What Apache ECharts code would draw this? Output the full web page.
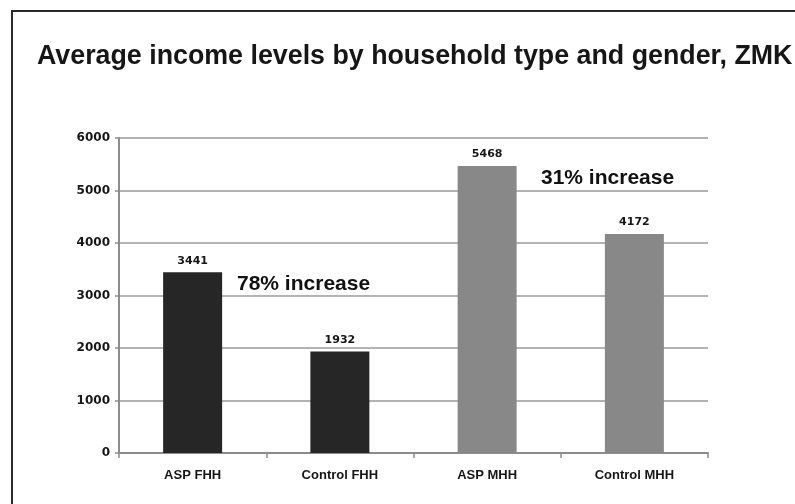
<!DOCTYPE html>
<html>
<head>
<meta charset="utf-8">
<script src="https://cdn.jsdelivr.net/npm/echarts@6/dist/echarts.min.js"></script>
<style>html,body{margin:0;padding:0;background:#fff}#c{width:795px;height:504px}</style>
</head>
<body>
<div id="c"></div>
<script>
const categories = ['ASP FHH', 'Control FHH', 'ASP MHH', 'Control MHH'];
const incomes = [3441, 1932, 5468, 4172];
const barColors = ['#262626', '#262626', '#888888', '#888888'];
const yTicks = [0, 1000, 2000, 3000, 4000, 5000, 6000];
const titleText = 'Average income levels by household type and gender, ZMK';
const notes = ['78% increase', '31% increase'];

const chart = echarts.init(document.getElementById('c'), null, {renderer: 'canvas'});
chart.setOption({
  animation: false,
  backgroundColor: '#fff',
  title: {
    text: titleText, left: 32, top: 38,
    textStyle: {fontFamily: 'Liberation Sans', fontWeight: 'bold', fontSize: 26.8, color: '#161616'}
  },
  grid: {left: 119, right: 87, top: 138, bottom: 51},
  xAxis: {
    type: 'category', data: categories,
    axisLine: {lineStyle: {color: '#8c8c8c', width: 2}},
    axisTick: {show: true, length: 5, lineStyle: {color: '#8c8c8c', width: 1.5}},
    axisLabel: {margin: 16, fontFamily: 'Liberation Sans', fontWeight: 'bold', fontSize: 13, color: '#161616'}
  },
  yAxis: {
    type: 'value', min: yTicks[0], max: yTicks[yTicks.length - 1], interval: yTicks[1] - yTicks[0],
    axisLine: {show: true, lineStyle: {color: '#8c8c8c', width: 2}},
    axisTick: {show: true, length: 4, lineStyle: {color: '#8c8c8c', width: 1.5}},
    splitLine: {lineStyle: {color: '#9a9a9a', width: 1.5}},
    axisLabel: {margin: 9, formatter: v => String(v), fontFamily: 'DejaVu Sans', fontWeight: 'bold', fontSize: 12, color: '#161616'}
  },
  series: [{
    type: 'bar', barWidth: 59,
    data: incomes.map((v, i) => ({value: v, itemStyle: {color: barColors[i]}})),
    label: {show: true, position: 'top', distance: 6, fontFamily: 'DejaVu Sans', fontWeight: 'bold', fontSize: 11, color: '#161616'}
  }],
  graphic: [
    {type: 'polyline', shape: {points: [[12, 504], [12, 11], [795, 11]]}, style: {stroke: '#2a2a2a', lineWidth: 2, fill: null}},
    {type: 'text', left: 237, top: 274, style: {text: notes[0], font: 'bold 21px "Liberation Sans"', fill: '#111'}},
    {type: 'text', left: 541, top: 168, style: {text: notes[1], font: 'bold 21px "Liberation Sans"', fill: '#111'}}
  ]
});
</script>
</body>
</html>
